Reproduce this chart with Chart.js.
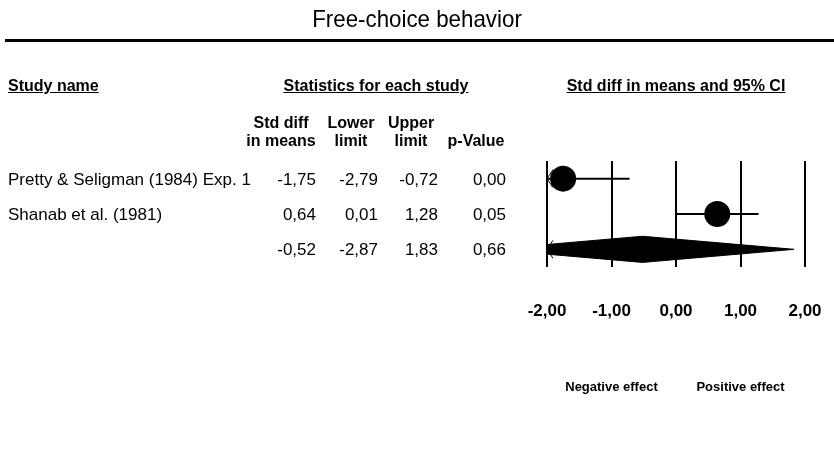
<!DOCTYPE html>
<html>
<head>
<meta charset="utf-8">
<script src="https://cdn.jsdelivr.net/npm/chart.js@4.4.1/dist/chart.umd.min.js"></script>
<style>
  body { margin: 0; background: #fff; }
  #page { position: relative; width: 834px; height: 461px; overflow: hidden;
          font-family: "Liberation Sans", Arial, sans-serif; color: #000; }
  #plot { position: absolute; left: 0; top: 0; }
  .t { position: absolute; white-space: nowrap; font-size: 16px; line-height: 18px; }
  .v { font-size: 17px; }
  .hdr { font-weight: bold; text-decoration: underline; }
  .b { font-weight: bold; }
  .r { text-align: right; }
  .c { text-align: center; }
  #title { position: absolute; left: 0; width: 834px; top: 6px; text-align: center;
           font-size: 24px; line-height: 26px; transform: scaleX(0.93); }
  #rule { position: absolute; left: 5px; right: 0; top: 39px; height: 3px; background: #000; }
</style>
</head>
<body>
<div id="page">
  <canvas id="plot" width="834" height="461"></canvas>
  <div id="title">Free-choice behavior</div>
  <div id="rule"></div>
  <div class="t hdr" style="left:8px; top:77px">Study name</div>
  <div class="t hdr c" style="left:276px; width:200px; top:77px">Statistics for each study</div>
  <div id="ciHeader" class="t hdr c" style="top:77px; width:260px">Std diff in means and 95% CI</div>
</div>

<script>
/* ---------- dados ---------- */
const studyNames = ["Pretty & Seligman (1984) Exp. 1", "Shanab et al. (1981)"];
const stdDiff    = [-1.75, 0.64];
const lowerLimit = [-2.79, 0.01];
const upperLimit = [-0.72, 1.28];
const pValues    = [0.00, 0.05];

const summaryDiff  = -0.52;
const summaryLower = -2.87;
const summaryUpper = 1.83;
const summaryP     = 0.66;

const xTicks = [-2, -1, 0, 1, 2];
const colHeaders = [["Std diff", "in means"], ["Lower", "limit"], ["Upper", "limit"], ["", "p-Value"]];
const effectLabels = ["Negative effect", "Positive effect"];

/* ---------- layout ---------- */
const colRight  = [316, 378, 438, 506];
const colCenter = [281, 351, 411, 476];
const DIAMOND_H = 0.37;   // meia altura do losango, em unidades de linha
const fmt = v => v.toFixed(2).replace(".", ",");

const sumRow = studyNames.length;
const page = document.getElementById("page");

function addText(txt, cls, style) {
    const d = document.createElement("div");
    d.className = "t " + cls;
    d.textContent = txt;
    Object.assign(d.style, style);
    page.appendChild(d);
    return d;
}

/* ---------- gráfico ---------- */
const ciSets = studyNames.map((_, i) => ({
    data: [{ x: lowerLimit[i], y: i }, { x: upperLimit[i], y: i }],
    showLine: true, borderColor: "#000", borderWidth: 2, pointRadius: 0, clip: 0
}));

const diamondSet = {
    data: [
        { x: summaryLower, y: sumRow },
        { x: summaryDiff, y: sumRow - DIAMOND_H },
        { x: summaryUpper, y: sumRow },
        { x: summaryDiff, y: sumRow + DIAMOND_H },
        { x: summaryLower, y: sumRow }
    ],
    showLine: true, fill: "shape", tension: 0,
    borderColor: "#000", backgroundColor: "#000", borderWidth: 1, pointRadius: 0, clip: 0
};

const markerSet = {
    data: stdDiff.map((v, i) => ({ x: v, y: i })),
    pointRadius: 13, pointHoverRadius: 13,
    backgroundColor: "#000", borderColor: "#000", borderWidth: 0, clip: false
};

// seta "<" quando o limite inferior sai da escala
const arrowPlugin = {
    id: "arrows",
    afterDatasetsDraw(chart) {
        const xs = chart.scales.x, ys = chart.scales.y, ctx = chart.ctx;
        const lows = lowerLimit.concat([summaryLower]);
        ctx.save();
        ctx.strokeStyle = "#000";
        ctx.lineWidth = 1;
        lows.forEach((l, i) => {
            if (l >= xs.min) return;
            const px = xs.getPixelForValue(xs.min), py = ys.getPixelForValue(i);
            ctx.beginPath();
            ctx.moveTo(px + 6, py - 9);
            ctx.lineTo(px, py);
            ctx.lineTo(px + 6, py + 9);
            ctx.stroke();
        });
        ctx.restore();
    }
};

const chart = new Chart(document.getElementById("plot"), {
    type: "scatter",
    data: { datasets: [...ciSets, diamondSet, markerSet] },
    options: {
        responsive: false,
        animation: false,
        events: [],
        layout: { padding: { left: 547, right: 29, top: 161, bottom: 0 } },
        plugins: { legend: { display: false }, tooltip: { enabled: false } },
        scales: {
            x: {
                type: "linear",
                min: xTicks[0], max: xTicks[xTicks.length - 1],
                afterBuildTicks: s => { s.ticks = xTicks.map(v => ({ value: v })); },
                afterFit: s => { s.height = 461 - 267; s.paddingLeft = 0; s.paddingRight = 0; },
                grid: { color: "#000", lineWidth: 2, drawTicks: false },
                border: { display: false },
                ticks: {
                    padding: 34, color: "#000",
                    font: { family: "Liberation Sans", size: 17, weight: "bold" },
                    callback: v => fmt(v)
                }
            },
            y: { type: "linear", min: -0.5, max: sumRow + 0.5, reverse: true, display: false }
        }
    },
    plugins: [arrowPlugin]
});

/* ---------- tabela ---------- */
const xs = chart.scales.x, ys = chart.scales.y;

colHeaders.forEach((lines, c) => {
    lines.forEach((txt, k) => {
        if (!txt) return;
        addText(txt, "b c", { left: (colCenter[c] - 50) + "px", width: "100px", top: (114 + k * 18) + "px" });
    });
});

const rows = studyNames.map((n, i) => [n, stdDiff[i], lowerLimit[i], upperLimit[i], pValues[i]]);
rows.push(["", summaryDiff, summaryLower, summaryUpper, summaryP]);

rows.forEach((r, i) => {
    const top = (ys.getPixelForValue(i) - 8) + "px";
    if (r[0]) addText(r[0], "v", { left: "8px", top });
    r.slice(1).forEach((v, c) => {
        addText(fmt(v), "v r", { left: (colRight[c] - 80) + "px", width: "80px", top });
    });
});

const ciHeader = document.getElementById("ciHeader");
ciHeader.style.left = (xs.getPixelForValue(0) - 130) + "px";

addText(effectLabels[0], "b c", { left: (xs.getPixelForValue(-1) - 70) + "px", width: "140px", top: "378px", fontSize: "13px" });
addText(effectLabels[1], "b c", { left: (xs.getPixelForValue(1) - 70) + "px", width: "140px", top: "378px", fontSize: "13px" });
</script>
</body>
</html>
